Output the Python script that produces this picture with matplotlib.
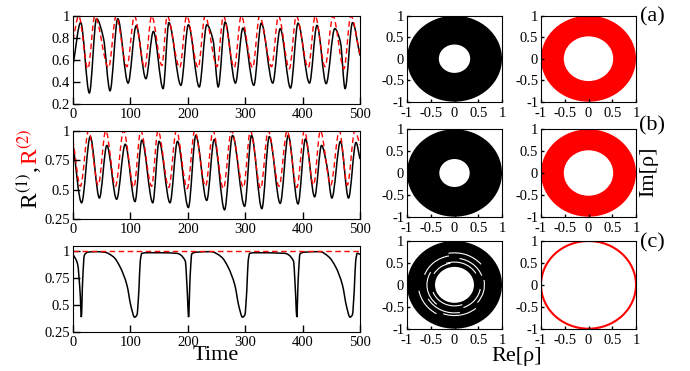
import numpy as np
import matplotlib
matplotlib.use('Agg')
import matplotlib.pyplot as plt
from matplotlib.path import Path
from matplotlib.patches import PathPatch, Wedge, Circle, Arc

plt.rcParams['font.family'] = ['Liberation Serif', 'DejaVu Serif']
plt.rcParams['mathtext.fontset'] = 'stix'
plt.rcParams['axes.unicode_minus'] = False

# ---- time series (extrema + a few shoulder points) ----
# (a)
t_a1 = [0, 13.4, 28.5, 41, 53, 64.5, 78, 96, 110, 127, 140, 157, 167, 188, 201, 220, 233, 244,
        253, 265, 283, 296, 315, 328, 348, 361, 379, 392, 412, 425, 441, 456, 466, 474, 487, 500]
v_a1 = [0.55, 0.94, 0.30, 0.975, 0.80, 0.32, 0.975, 0.39, 0.91, 0.43, 0.86, 0.34, 0.94, 0.37, 0.92, 0.355, 0.92, 0.78,
        0.355, 0.945, 0.39, 0.89, 0.37, 0.935, 0.39, 0.885, 0.345, 0.935, 0.39, 0.915, 0.385, 0.885, 0.76, 0.34, 0.94, 0.64]
t_a2 = [0, 10, 26, 38, 62, 75, 94, 107, 125, 137, 155, 164, 186, 198, 218, 230, 251, 262,
        281, 293, 313, 325, 346, 358, 377, 389, 410, 422, 439, 453, 472, 484, 500]
v_a2 = [0.78, 1.0, 0.52, 1.0, 0.53, 1.0, 0.54, 1.0, 0.53, 1.0, 0.55, 1.0, 0.53, 1.0, 0.53, 1.0, 0.54, 1.0,
        0.53, 1.0, 0.53, 1.0, 0.54, 1.0, 0.52, 1.0, 0.53, 1.0, 0.54, 1.0, 0.52, 1.0, 0.65]

# (b)
t_b1 = [0, 15, 30, 46, 59, 76, 91, 108, 120, 139, 150, 169, 182, 201, 214, 233, 246, 264, 278,
        299, 311, 329, 342, 361, 375, 392, 405, 421, 433, 442.5, 451, 466, 480, 493, 500]
v_b1 = [0.885, 0.39, 0.95, 0.43, 0.875, 0.42, 0.885, 0.40, 0.92, 0.39, 0.91, 0.39, 0.91, 0.35, 0.96, 0.41, 0.925, 0.33, 0.96,
        0.36, 0.96, 0.34, 0.95, 0.385, 0.96, 0.38, 0.93, 0.44, 0.875, 0.70, 0.43, 0.91, 0.43, 0.90, 0.76]
t_b2 = [0, 13, 27, 44, 57, 74, 88, 106, 118, 137, 148, 167, 180, 199, 212, 231, 244, 262, 276,
        297, 309, 327, 340, 359, 373, 390, 403, 419, 431, 449, 464, 478, 491, 500]
v_b2 = [0.92, 0.53, 1.0, 0.54, 1.0, 0.53, 1.0, 0.52, 1.0, 0.53, 1.0, 0.52, 1.0, 0.51, 1.0, 0.53, 1.0, 0.51, 1.0,
        0.52, 1.0, 0.51, 1.0, 0.53, 1.0, 0.52, 1.0, 0.54, 1.0, 0.54, 1.0, 0.54, 1.0, 0.88]

# (c)
t_c1 = [0, 8, 12.8, 14.5, 16.8, 19.7, 25.5, 40, 55, 70.8, 82.4, 94, 101, 107.3, 111.4, 114.8, 117.2, 120, 130,
        150, 180, 195.5, 199.5, 201.3, 204, 207, 215, 240, 258.8, 270.4, 282, 289, 295.3, 299.4, 302.8, 305.2, 308, 318,
        368, 384, 388, 389.8, 392.5, 395.5, 403, 430, 446, 458, 469.5, 476.5, 482.6, 486.7, 490, 492.5, 495.3, 500]
v_c1 = [0.97, 0.88, 0.58, 0.39, 0.73, 0.96, 0.99, 0.995, 0.99, 0.945, 0.85, 0.685, 0.49, 0.39, 0.41, 0.64, 0.91, 0.98, 0.985,
        0.985, 0.98, 0.91, 0.58, 0.39, 0.76, 0.975, 0.99, 0.995, 0.945, 0.85, 0.685, 0.49, 0.39, 0.41, 0.64, 0.91, 0.98, 0.985,
        0.98, 0.91, 0.58, 0.39, 0.76, 0.975, 0.99, 0.995, 0.945, 0.85, 0.685, 0.49, 0.39, 0.41, 0.64, 0.91, 0.98, 0.97]
t_c2 = [0, 500]
v_c2 = [1.0, 1.0]

# ---- phase portraits: annulus radii of the trajectories ----
ring_inner = {'a1': 0.33, 'a2': 0.52, 'b1': 0.32, 'b2': 0.52, 'c1': 0.41}
ring_outer = 1.0
# white gaps between the windings in (c), radius and angle range (deg)
gap_r = [0.48, 0.52, 0.55, 0.58, 0.61, 0.64, 0.67, 0.70, 0.73, 0.76, 0.50, 0.63]
gap_a0 = [200, 30, 290, 150, 20, 210, 100, 250, 40, 190, 100, 320]
gap_a1 = [290, 110, 350, 230, 80, 280, 160, 310, 100, 240, 150, 370]
limit_cycle_r = 1.0

ts_ylims = [(0.2, 1.0), (0.25, 1.0), (0.25, 1.05)]
ts_yticks = [[0.2, 0.4, 0.6, 0.8, 1.0], [0.25, 0.5, 0.75, 1.0], [0.25, 0.5, 0.75, 1.0]]
ts_ylabels = [['0.2', '0.4', '0.6', '0.8', '1'], ['0.25', '0.5', '0.75', '1'], ['0.25', '0.5', '0.75', '1']]
ph_ticks = [-1, -0.5, 0, 0.5, 1]
ph_labels = ['-1', '-0.5', '0', '0.5', '1']
panel_tags = ['(a)', '(b)', '(c)']


def smooth_path(t, v):
    # monotone cubic through the read points, handed to matplotlib as bezier segments
    t = np.asarray(t, float)
    v = np.asarray(v, float)
    h = np.diff(t)
    d = np.diff(v) / h
    m = np.zeros_like(v)
    m[0], m[-1] = d[0], d[-1]
    for k in range(1, len(v) - 1):
        if d[k - 1] * d[k] > 0:
            w1 = 2 * h[k] + h[k - 1]
            w2 = h[k] + 2 * h[k - 1]
            m[k] = (w1 + w2) / (w1 / d[k - 1] + w2 / d[k])
    verts = [(t[0], v[0])]
    codes = [Path.MOVETO]
    for k in range(len(h)):
        verts += [(t[k] + h[k] / 3, v[k] + m[k] * h[k] / 3),
                  (t[k + 1] - h[k] / 3, v[k + 1] - m[k + 1] * h[k] / 3),
                  (t[k + 1], v[k + 1])]
        codes += [Path.CURVE4] * 3
    return Path(verts, codes)


fig = plt.figure(figsize=(6.9, 3.71), dpi=100)

W, H = 690.0, 371.0
def box(x0, y0, x1, y1):
    return [x0 / W, 1 - y1 / H, (x1 - x0) / W, (y1 - y0) / H]

ts_boxes = [box(73, 16, 360, 104), box(73, 130.7, 360, 219.3), box(73, 245.7, 360, 332.3)]
mid_boxes = [box(407, 15.7, 502, 101.7), box(407, 129.3, 502, 216.7), box(407, 241, 502, 328.7)]
right_boxes = [box(541, 15.7, 636, 101.7), box(541, 129.3, 636, 216.7), box(541, 241, 636, 328.7)]

series = [(t_a1, v_a1, t_a2, v_a2), (t_b1, v_b1, t_b2, v_b2), (t_c1, v_c1, t_c2, v_c2)]

for i in range(3):
    ax = fig.add_axes(ts_boxes[i])
    t1, v1, t2, v2 = series[i]
    ax.add_patch(PathPatch(smooth_path(t1, v1), fill=False, ec='black', lw=1.1))
    if i < 2:
        ax.add_patch(PathPatch(smooth_path(t2, v2), fill=False, ec='red', lw=1.0,
                               ls=(0, (4, 2.5))))
    else:
        ax.plot(t2, v2, color='red', lw=1.0, ls=(0, (4, 2.5)))
    ax.set_xlim(0, 500)
    ax.set_ylim(*ts_ylims[i])
    ax.set_xticks([0, 100, 200, 300, 400, 500])
    ax.set_yticks(ts_yticks[i])
    ax.set_yticklabels(ts_ylabels[i])
    ax.tick_params(direction='in', length=5, width=1, labelsize=10.5, pad=2)
    ax.tick_params(axis='x', pad=3)

for i, key in enumerate(['a', 'b', 'c']):
    axm = fig.add_axes(mid_boxes[i])
    axr = fig.add_axes(right_boxes[i])
    for ax in (axm, axr):
        ax.set_xlim(-1, 1)
        ax.set_ylim(-1, 1)
        ax.set_xticks(ph_ticks)
        ax.set_yticks(ph_ticks)
        ax.set_xticklabels(ph_labels)
        ax.set_yticklabels(ph_labels)
        ax.tick_params(direction='in', length=2.5, width=1, labelsize=10.5, pad=2)
        ax.tick_params(axis='x', pad=3.5)
    rin = ring_inner[key + '1']
    axm.add_patch(Wedge((0, 0), ring_outer, 0, 360, width=ring_outer - rin, color='black', lw=0))
    if key == 'c':
        for r, a0, a1 in zip(gap_r, gap_a0, gap_a1):
            axm.add_patch(Arc((0, 0), 2 * r, 2 * r, theta1=a0, theta2=a1, color='white', lw=0.8))
        axr.add_patch(Circle((0, 0), limit_cycle_r, fill=False, ec='red', lw=1.5))
    else:
        rin2 = ring_inner[key + '2']
        axr.add_patch(Wedge((0, 0), ring_outer, 0, 360, width=ring_outer - rin2, color='red', lw=0))
    fig.text(652 / W, 1 - [17, 126, 243][i] / H, panel_tags[i], fontsize=16, ha='center', va='center')

fig.text(216 / W, 1 - 355 / H, 'Time', fontsize=16, ha='center', va='center')
fig.text(517 / W, 1 - 357 / H, r'Re[ρ]', fontsize=16, ha='center', va='center')
fig.text(649 / W, 1 - 172 / H, r'Im[ρ]', fontsize=16, ha='center', va='center', rotation=90)

t1 = fig.text(30 / W, 1 - 209 / H, r'R$^{(1)}$, ', fontsize=17, color='black',
              rotation=90, ha='center', va='bottom')
fig.canvas.draw()
bb = t1.get_window_extent().transformed(fig.transFigure.inverted())
fig.text(30 / W, bb.y1, r'R$^{(2)}$', fontsize=17, color='red',
         rotation=90, ha='center', va='bottom')

fig.savefig('out.png', dpi=100)
